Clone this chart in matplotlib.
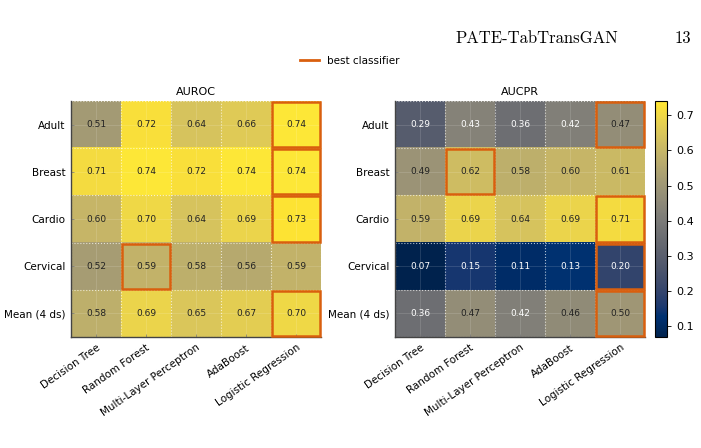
import numpy as np
import matplotlib
matplotlib.use("Agg")
import matplotlib.pyplot as plt
from matplotlib.patches import Rectangle
from matplotlib.lines import Line2D

classifiers = ["Decision Tree", "Random Forest", "Multi-Layer Perceptron", "AdaBoost", "Logistic Regression"]
datasets = ["Adult", "Breast", "Cardio", "Cervical", "Mean (4 ds)"]

auroc = [
    [0.51, 0.72, 0.64, 0.66, 0.74],
    [0.71, 0.74, 0.72, 0.74, 0.74],
    [0.60, 0.70, 0.64, 0.69, 0.73],
    [0.52, 0.59, 0.58, 0.56, 0.59],
    [0.58, 0.69, 0.65, 0.67, 0.70],
]
aucpr = [
    [0.29, 0.43, 0.36, 0.42, 0.47],
    [0.49, 0.62, 0.58, 0.60, 0.61],
    [0.59, 0.69, 0.64, 0.69, 0.71],
    [0.07, 0.15, 0.11, 0.13, 0.20],
    [0.36, 0.47, 0.42, 0.46, 0.50],
]
best_auroc = [4, 4, 4, 1, 4]
best_aucpr = [4, 1, 4, 4, 4]

ORANGE = "#d95f0e"
W, H = 701, 448
fig = plt.figure(figsize=(W / 100, H / 100), dpi=100)

def fx(px):
    return px / W

def fy(py):
    return 1 - py / H

vmin = min(min(r) for r in auroc + aucpr)
vmax = max(max(r) for r in auroc + aucpr)

ax1 = fig.add_axes([fx(71), fy(337), fx(250), (337 - 101) / H])
ax2 = fig.add_axes([fx(395), fy(337), fx(250), (337 - 101) / H])
cax = fig.add_axes([fx(655), fy(337), fx(12), (337 - 101) / H])

def draw(ax, data, best, title):
    arr = np.array(data)
    im = ax.imshow(arr, cmap="cividis", vmin=vmin, vmax=vmax, aspect="auto")
    nr, nc = arr.shape
    ax.set_xticks(range(nc))
    ax.set_yticks(range(nr))
    ax.set_xticklabels(classifiers, rotation=35, ha="right", rotation_mode="anchor", fontsize=7.5)
    ax.set_yticklabels(datasets, fontsize=7.5)
    ax.tick_params(axis="both", direction="in", length=2, width=0.5, color="#777777", pad=4)
    ax.set_xticks(np.arange(-0.5, nc, 1), minor=True)
    ax.set_yticks(np.arange(-0.5, nr, 1), minor=True)
    ax.tick_params(which="minor", length=0)
    ax.grid(which="minor", color="white", linestyle=":", linewidth=0.8, alpha=0.7)
    ax.grid(which="major", color="white", linestyle="-", linewidth=0.5, alpha=0.18)
    for s in ["top", "right"]:
        ax.spines[s].set_visible(False)
    for s in ["left", "bottom"]:
        ax.spines[s].set_color("#444444")
        ax.spines[s].set_linewidth(1.0)
    for i in range(nr):
        for j in range(nc):
            v = arr[i, j]
            ax.text(j, i, f"{v:.2f}", ha="center", va="center", fontsize=6.5,
                    color="white" if v < 0.45 else "#222222")
    for i, j in enumerate(best):
        ax.add_patch(Rectangle((j - 0.48, i - 0.48), 0.96, 0.96, fill=False,
                               edgecolor=ORANGE, linewidth=1.8, zorder=5, clip_on=False))
    ax.set_title(title, fontsize=8, pad=4)
    return im

draw(ax1, auroc, best_auroc, "AUROC")
im = draw(ax2, aucpr, best_aucpr, "AUCPR")

cb = fig.colorbar(im, cax=cax)
cb.set_ticks([0.1, 0.2, 0.3, 0.4, 0.5, 0.6, 0.7])
cb.ax.tick_params(labelsize=8, length=3, width=0.6)
cb.outline.set_linewidth(0.8)

fig.legend(handles=[Line2D([0], [0], color=ORANGE, lw=2)], labels=["best classifier"],
           loc="center", bbox_to_anchor=(fx(350), fy(61)), frameon=False, fontsize=7.5,
           handlelength=1.8, handletextpad=0.8)

fig.text(fx(537), fy(38), "PATE-TabTransGAN", ha="center", va="center",
         fontsize=12, family="cmr10")
fig.text(fx(691), fy(38), "13", ha="right", va="center", fontsize=12, family="cmr10")

fig.savefig("out.png", dpi=100)
